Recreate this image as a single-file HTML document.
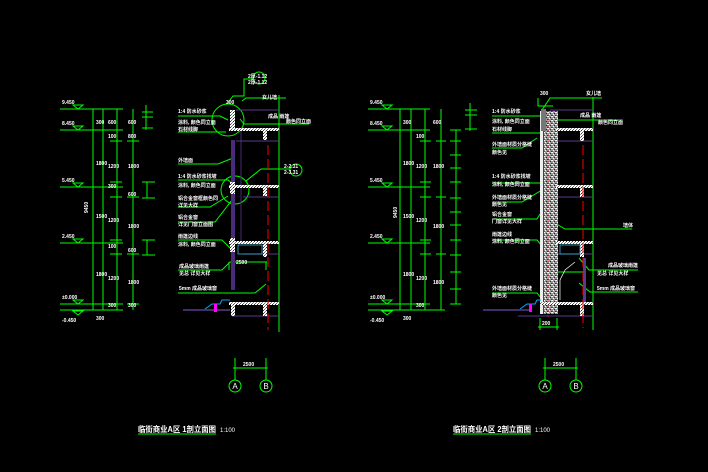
<!DOCTYPE html>
<html><head><meta charset="utf-8"><style>
html,body{margin:0;padding:0;background:#000;}
svg{display:block;}
text{font-family:"Liberation Sans","Noto Sans CJK SC",sans-serif;fill:#fff;}
</style></head><body>
<svg width="708" height="472" viewBox="0 0 708 472" xmlns="http://www.w3.org/2000/svg">
<rect width="708" height="472" fill="#000"/>
<defs>
<pattern id="hat" width="3" height="3" patternUnits="userSpaceOnUse">
<rect width="3" height="3" fill="#fff"/><rect x="0" y="0" width="1" height="1" fill="#666"/><rect x="2" y="1" width="1" height="1" fill="#333"/><rect x="1" y="2" width="1" height="1" fill="#888"/>
</pattern>
<pattern id="hat2" width="4" height="4" patternUnits="userSpaceOnUse">
<rect width="4" height="4" fill="#999"/><rect x="0" y="0" width="1" height="1" fill="#fff"/><rect x="2" y="1" width="1" height="1" fill="#222"/><rect x="1" y="2" width="1" height="1" fill="#fff"/><rect x="3" y="3" width="1" height="1" fill="#333"/><rect x="3" y="0" width="1" height="1" fill="#eee"/><rect x="0" y="3" width="1" height="1" fill="#555"/>
</pattern>
</defs>

<!-- ========== LEFT DRAWING ========== -->
<g stroke="#0f0" stroke-width="1" fill="none">
<line x1="60" y1="109" x2="123" y2="109"/>
<line x1="60" y1="130" x2="123" y2="130"/>
<line x1="60" y1="187" x2="123" y2="187"/>
<line x1="60" y1="243" x2="123" y2="243"/>
<line x1="60" y1="304" x2="123" y2="304"/>
<line x1="60" y1="310" x2="123" y2="310"/>
<path d="M73 105 L83 105 L78 109 Z M73 126 L83 126 L78 130 Z M73 183 L83 183 L78 187 Z M73 239 L83 239 L78 243 Z M73 300 L83 300 L78 304 Z M73 311 L83 311 L78 315 Z"/>
<line x1="93" y1="109" x2="93" y2="310"/>
<line x1="103" y1="109" x2="103" y2="310"/>
<line x1="117" y1="109" x2="117" y2="310"/>
<line x1="133" y1="109" x2="133" y2="310"/>
<line x1="110" y1="141" x2="122" y2="141"/><line x1="110" y1="182" x2="122" y2="182"/><line x1="110" y1="197" x2="122" y2="197"/><line x1="110" y1="240" x2="122" y2="240"/><line x1="110" y1="254" x2="122" y2="254"/>
<line x1="127" y1="141" x2="139" y2="141"/><line x1="127" y1="197" x2="139" y2="197"/><line x1="127" y1="254" x2="139" y2="254"/><line x1="127" y1="304" x2="139" y2="304"/>
<line x1="146" y1="105" x2="146" y2="130"/><line x1="142" y1="112" x2="153" y2="112"/><line x1="142" y1="117" x2="153" y2="117"/><line x1="142" y1="128" x2="153" y2="128"/>
<line x1="147" y1="182" x2="147" y2="198"/><line x1="142" y1="182" x2="155" y2="182"/><line x1="142" y1="198" x2="155" y2="198"/>
<line x1="147" y1="240" x2="147" y2="255"/><line x1="142" y1="240" x2="155" y2="240"/><line x1="142" y1="255" x2="155" y2="255"/>
<line x1="279" y1="95" x2="279" y2="332"/>
<circle cx="228" cy="120" r="16"/>
<circle cx="235" cy="190" r="14"/>
<circle cx="259" cy="78" r="6"/>
<circle cx="296" cy="170" r="6"/>
<polyline points="227,104 233,96 244,96 244,79 253,79"/>
<polyline points="242,101 246,98 286,98"/>
<polyline points="178,116 220,116 228,120"/>
<polyline points="178,132 226,132"/>
<polyline points="240,119 244,124 309,124"/>
<polyline points="178,164 218,164 233,158"/>
<polyline points="178,180 228,180 238,188"/>
<polyline points="246,181 261,169 290,169"/>
<polyline points="178,207 210,207 228,196"/>
<polyline points="178,222 215,222 232,200"/>
<polyline points="178,240 222,240 232,250"/>
<polyline points="178,270 222,270 230,262 267,262"/>
<polyline points="178,293 255,293 266,284"/>
<polyline points="229,262 229,270"/><polyline points="266,262 266,270"/>
<line x1="235" y1="358" x2="235" y2="380"/>
<line x1="266" y1="358" x2="266" y2="380"/>
<line x1="233" y1="368" x2="268" y2="368"/>
<circle cx="235" cy="386" r="6"/>
<circle cx="266" cy="386" r="6"/>
<line x1="138" y1="434" x2="216" y2="434"/>
</g>
<g>
<rect x="231" y="140" width="4" height="150" fill="#4a2a7a"/>
<line x1="241" y1="130" x2="241" y2="243" stroke="#4a2a7a" stroke-width="1"/>
<line x1="236" y1="110" x2="279" y2="110" stroke="#5a3a8a"/>
<line x1="236" y1="141" x2="279" y2="141" stroke="#5a3a8a"/>
<line x1="243" y1="197" x2="279" y2="197" stroke="#5a3a8a"/>
<line x1="243" y1="254" x2="279" y2="254" stroke="#5a3a8a"/>
<line x1="232" y1="316" x2="279" y2="316" stroke="#5a3a8a"/>
<line x1="183" y1="310" x2="230" y2="310" stroke="#5a3a8a" stroke-width="1.5"/>
<rect x="229" y="128" width="50" height="3" fill="url(#hat)"/>
<rect x="229" y="185" width="50" height="3" fill="url(#hat)"/>
<rect x="229" y="241" width="50" height="3" fill="url(#hat)"/>
<rect x="229" y="302" width="50" height="3" fill="url(#hat)"/>
<rect x="230" y="110" width="5" height="20" fill="url(#hat)"/>
<rect x="230" y="182" width="5" height="12" fill="url(#hat)"/>
<rect x="230" y="238" width="5" height="14" fill="url(#hat)"/>
<rect x="263" y="130" width="4" height="10" fill="url(#hat)"/>
<rect x="263" y="187" width="4" height="9" fill="url(#hat)"/>
<rect x="263" y="243" width="4" height="14" fill="url(#hat)"/>
<rect x="231" y="303" width="4" height="13" fill="url(#hat)"/>
<rect x="263" y="303" width="4" height="13" fill="url(#hat)"/>
<rect x="238" y="245" width="24" height="9" fill="none" stroke="#3bd" stroke-width="0.8"/>
<path d="M205 309 L212 304 L220 304 L222 300 L230 300" stroke="#0af" fill="none"/>
<rect x="214" y="304" width="3" height="8" fill="#f0f"/>
<line x1="268" y1="145" x2="268" y2="330" stroke="#f00" stroke-dasharray="10 4"/>
</g>

<!-- ========== RIGHT DRAWING ========== -->
<g stroke="#0f0" stroke-width="1" fill="none">
<line x1="368" y1="109" x2="430" y2="109"/>
<line x1="368" y1="130" x2="430" y2="130"/>
<line x1="368" y1="187" x2="430" y2="187"/>
<line x1="368" y1="243" x2="430" y2="243"/>
<line x1="368" y1="304" x2="430" y2="304"/>
<line x1="368" y1="310" x2="445" y2="310"/>
<path d="M382 105 L392 105 L387 109 Z M382 126 L392 126 L387 130 Z M382 183 L392 183 L387 187 Z M382 239 L392 239 L387 243 Z M382 300 L392 300 L387 304 Z M382 311 L392 311 L387 315 Z"/>
<line x1="400" y1="109" x2="400" y2="310"/>
<line x1="411" y1="109" x2="411" y2="310"/>
<line x1="425" y1="109" x2="425" y2="310"/>
<line x1="441" y1="109" x2="441" y2="310"/>
<line x1="456" y1="130" x2="456" y2="304"/>
<line x1="420" y1="141" x2="431" y2="141"/><line x1="420" y1="182" x2="431" y2="182"/><line x1="420" y1="197" x2="431" y2="197"/><line x1="420" y1="240" x2="431" y2="240"/><line x1="420" y1="254" x2="431" y2="254"/>
<line x1="436" y1="141" x2="446" y2="141"/><line x1="436" y1="197" x2="446" y2="197"/><line x1="436" y1="254" x2="446" y2="254"/>
<line x1="450" y1="130" x2="461" y2="130"/><line x1="450" y1="141" x2="461" y2="141"/><line x1="450" y1="155" x2="461" y2="155"/><line x1="450" y1="168" x2="461" y2="168"/><line x1="450" y1="182" x2="461" y2="182"/><line x1="450" y1="198" x2="461" y2="198"/><line x1="450" y1="212" x2="461" y2="212"/><line x1="450" y1="225" x2="461" y2="225"/><line x1="450" y1="240" x2="461" y2="240"/><line x1="450" y1="255" x2="461" y2="255"/><line x1="450" y1="272" x2="461" y2="272"/><line x1="450" y1="289" x2="461" y2="289"/><line x1="450" y1="304" x2="461" y2="304"/>
<line x1="470" y1="103" x2="470" y2="131"/><line x1="465" y1="110" x2="477" y2="110"/><line x1="465" y1="115" x2="477" y2="115"/><line x1="465" y1="129" x2="477" y2="129"/>
<line x1="593" y1="97" x2="593" y2="330"/>
<polyline points="538,98 538,106 553,106"/>
<polyline points="542,110 550,98 602,98"/>
<polyline points="492,116 540,116 545,120"/>
<polyline points="492,133 540,133"/>
<polyline points="548,128 555,120 623,120"/>
<polyline points="492,148 522,148 537,138"/>
<polyline points="492,183 540,183 545,188"/>
<polyline points="492,202 522,202 542,190"/>
<polyline points="492,219 537,219 540,214"/>
<polyline points="553,222 565,229 632,229"/>
<polyline points="492,240 537,240 547,252"/>
<polyline points="556,263 556,272 583,272"/>
<polyline points="579,258 589,270 638,270"/>
<polyline points="579,283 590,292 638,292"/>
<polyline points="492,293 537,293 541,298"/>
<line x1="540" y1="318" x2="540" y2="330"/><line x1="557" y1="318" x2="557" y2="330"/><line x1="538" y1="327" x2="559" y2="327"/>
<line x1="545" y1="358" x2="545" y2="380"/>
<line x1="576" y1="358" x2="576" y2="380"/>
<line x1="543" y1="368" x2="578" y2="368"/>
<circle cx="545" cy="386" r="6"/>
<circle cx="576" cy="386" r="6"/>
<line x1="453" y1="434" x2="531" y2="434"/>
</g>
<g>
<rect x="540" y="111" width="18" height="203" fill="url(#hat2)"/>
<rect x="540" y="111" width="3" height="203" fill="#eee"/>
<rect x="543" y="111" width="1" height="203" fill="#444"/>
<rect x="541" y="109" width="5" height="22" fill="#777"/>
<line x1="550" y1="110" x2="593" y2="110" stroke="#5a3a8a"/>
<line x1="558" y1="141" x2="593" y2="141" stroke="#5a3a8a"/>
<line x1="558" y1="197" x2="593" y2="197" stroke="#5a3a8a"/>
<line x1="558" y1="254" x2="593" y2="254" stroke="#5a3a8a"/>
<line x1="518" y1="316" x2="593" y2="316" stroke="#5a3a8a"/>
<line x1="483" y1="310" x2="530" y2="310" stroke="#5a3a8a" stroke-width="1.5"/>
<rect x="583" y="258" width="3" height="45" fill="#5a3a8a"/>
<rect x="556" y="128" width="37" height="3" fill="url(#hat)"/>
<rect x="556" y="185" width="37" height="3" fill="url(#hat)"/>
<rect x="556" y="241" width="37" height="3" fill="url(#hat)"/>
<rect x="540" y="302" width="53" height="3" fill="url(#hat)"/>
<rect x="580" y="130" width="4" height="11" fill="url(#hat)"/>
<rect x="580" y="187" width="4" height="10" fill="url(#hat)"/>
<rect x="580" y="243" width="4" height="14" fill="url(#hat)"/>
<rect x="580" y="305" width="4" height="11" fill="url(#hat)"/>
<rect x="560" y="245" width="20" height="9" fill="none" stroke="#3bd" stroke-width="0.8"/>
<path d="M560 300 L560 280 L565 270 L575 262" stroke="#fff" fill="none" stroke-width="0.7"/>
<path d="M520 309 L527 304 L535 304 L537 300 L541 300" stroke="#0af" fill="none"/>
<rect x="529" y="304" width="3" height="8" fill="#f0f"/>
<line x1="583" y1="145" x2="583" y2="328" stroke="#f00" stroke-dasharray="10 4"/>
<line x1="548" y1="120" x2="548" y2="318" stroke="#f00" stroke-dasharray="2 3" stroke-width="0.8"/>
</g>

<!-- ========== TEXT ========== -->
<g font-size="5" font-weight="bold">
<text x="62" y="104">9.450</text><text x="62" y="125">8.450</text><text x="62" y="182">5.450</text><text x="62" y="238">2.450</text><text x="62" y="299">±0.000</text><text x="62" y="322">-0.450</text>
<text x="96" y="124">300</text><text x="96" y="165">1800</text><text x="96" y="218">1500</text><text x="96" y="276">1800</text><text x="96" y="320">300</text>
<text x="85" y="210" transform="rotate(-90 88 210)">9450</text>
<text x="108" y="124">600</text><text x="108" y="138">100</text><text x="108" y="168">1200</text><text x="108" y="188">300</text><text x="108" y="222">1200</text><text x="108" y="248">100</text><text x="108" y="280">1200</text><text x="108" y="307">300</text>
<text x="128" y="124">600</text><text x="128" y="138">800</text><text x="128" y="168">1800</text><text x="128" y="196">600</text><text x="128" y="228">1800</text><text x="128" y="252">600</text><text x="128" y="284">1800</text><text x="128" y="307">300</text>
<text x="178" y="113">1:4 防水砂浆</text><text x="178" y="124">涂料, 颜色同立面</text><text x="178" y="131">石材线脚</text>
<text x="178" y="162">外墙面</text><text x="178" y="178">1:4 防水砂浆找坡</text><text x="178" y="187">涂料, 颜色同立面</text>
<text x="178" y="200">铝合金窗框颜色同</text><text x="178" y="207">详见大样</text><text x="178" y="219">铝合金窗</text><text x="178" y="226">详见门窗立面图</text>
<text x="178" y="238">雨篷边线</text><text x="178" y="246">涂料, 颜色同立面</text>
<text x="179" y="268">成品玻璃雨篷</text><text x="179" y="275">见总 详见大样</text>
<text x="179" y="290">5mm 成品玻璃窗</text>
<text x="248" y="78">2厚-1.12</text><text x="248" y="84">2厚-1.12</text><text x="262" y="99">女儿墙</text>
<text x="268" y="118">成品 雨篷</text><text x="286" y="123">颜色同立面</text>
<text x="284" y="168">2-2.31</text><text x="284" y="174">2-3.31</text>
<text x="226" y="104">300</text><text x="236" y="264">2500</text>
<text x="370" y="104">9.450</text><text x="370" y="125">8.450</text><text x="370" y="182">5.450</text><text x="370" y="238">2.450</text><text x="370" y="299">±0.000</text><text x="370" y="322">-0.450</text>
<text x="403" y="124">300</text><text x="403" y="165">1800</text><text x="403" y="218">1500</text><text x="403" y="276">1800</text><text x="403" y="320">300</text>
<text x="394" y="215" transform="rotate(-90 397 215)">9450</text>
<text x="416" y="138">100</text><text x="416" y="168">1200</text><text x="416" y="222">1200</text><text x="416" y="280">1200</text><text x="416" y="307">300</text>
<text x="433" y="124">600</text><text x="433" y="168">1800</text><text x="433" y="228">1800</text><text x="433" y="284">1800</text>
<text x="492" y="113">1:4 防水砂浆</text><text x="492" y="123">涂料, 颜色同立面</text><text x="492" y="131">石材线脚</text>
<text x="492" y="146">外墙面材质分格缝</text><text x="492" y="154">颜色见</text>
<text x="492" y="178">1:4 防水砂浆找坡</text><text x="492" y="186">涂料, 颜色同立面</text>
<text x="492" y="199">外墙面材质分格缝</text><text x="492" y="206">颜色见</text>
<text x="492" y="216">铝合金窗</text><text x="492" y="223">门窗详见大样</text>
<text x="492" y="236">雨篷边线</text><text x="492" y="243">涂料, 颜色同立面</text>
<text x="492" y="290">外墙面材质分格缝</text><text x="492" y="297">颜色见</text>
<text x="586" y="95">女儿墙</text><text x="580" y="117">成品 雨篷</text><text x="598" y="124">颜色同立面</text>
<text x="623" y="227">墙体</text>
<text x="608" y="267">成品玻璃雨篷</text><text x="597" y="275">见总 详见大样</text>
<text x="597" y="290">5mm 成品玻璃窗</text>
<text x="540" y="95">300</text><text x="542" y="325">200</text>
<text x="243" y="366">2500</text><text x="553" y="366">2500</text>
</g>
<g font-size="8" text-anchor="middle" fill="#fff">
<text x="235" y="389">A</text><text x="266" y="389">B</text>
<text x="545" y="389">A</text><text x="576" y="389">B</text>
</g>
<text x="138" y="432" font-size="8" font-weight="bold" textLength="78" lengthAdjust="spacingAndGlyphs">临街商业A区 1剖立面图</text>
<text x="220" y="432" font-size="6">1:100</text>
<text x="453" y="432" font-size="8" font-weight="bold" textLength="78" lengthAdjust="spacingAndGlyphs">临街商业A区 2剖立面图</text>
<text x="535" y="432" font-size="6">1:100</text>
</svg>
</body></html>
